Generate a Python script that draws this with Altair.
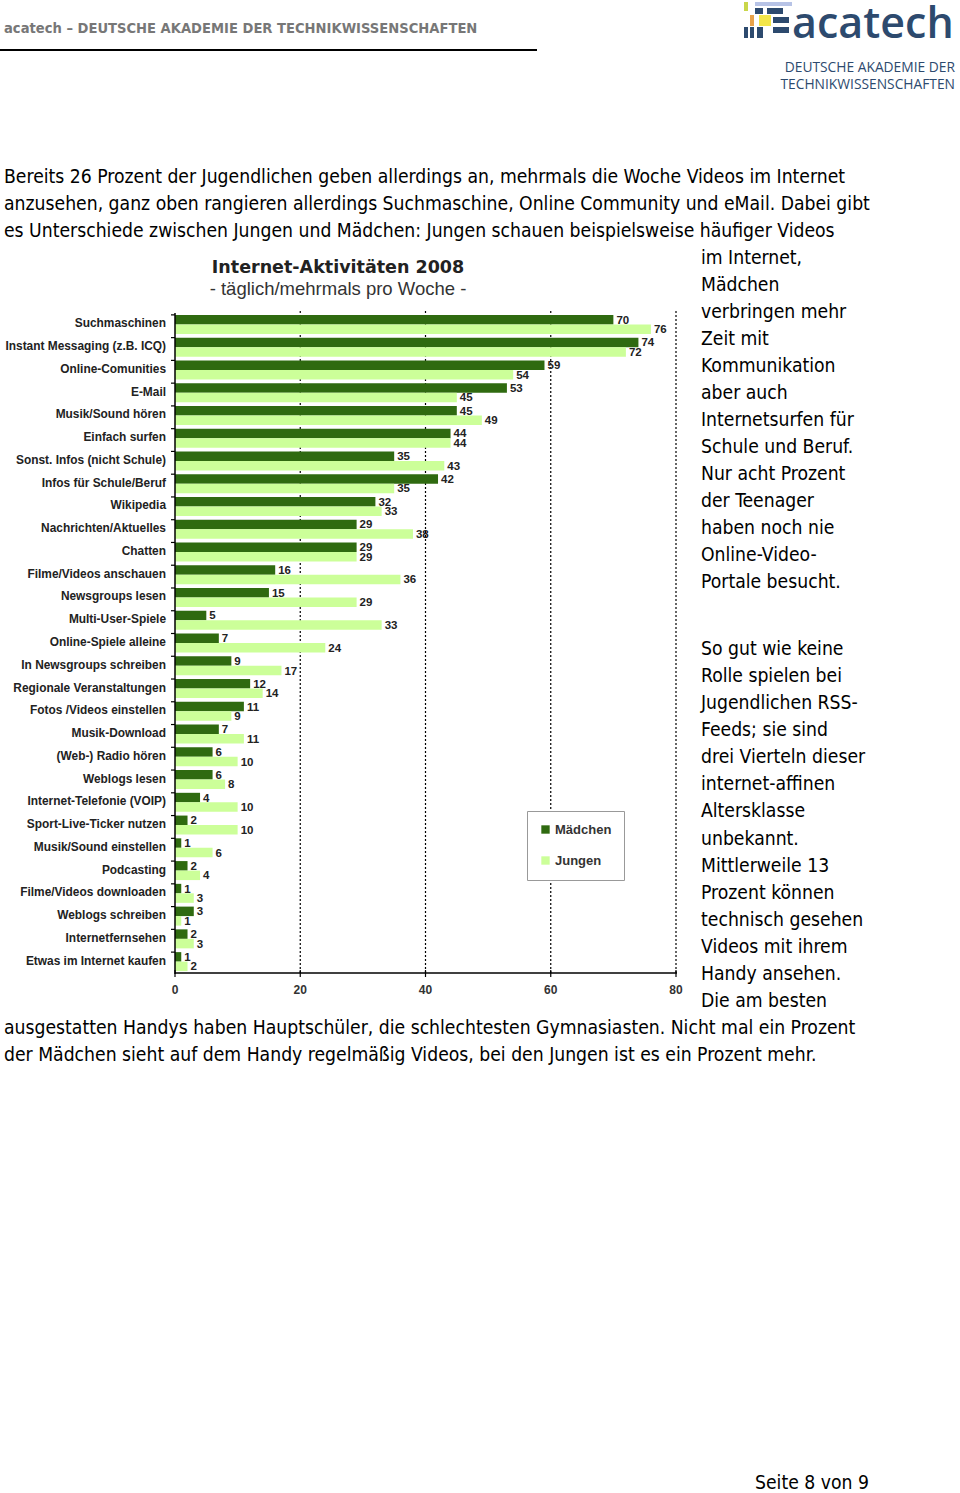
import altair as alt
import pandas as pd

# ---------------- data ----------------
categories = [
    "Suchmaschinen", "Instant Messaging (z.B. ICQ)", "Online-Comunities", "E-Mail",
    "Musik/Sound hören", "Einfach surfen", "Sonst. Infos (nicht Schule)",
    "Infos für Schule/Beruf", "Wikipedia", "Nachrichten/Aktuelles", "Chatten",
    "Filme/Videos anschauen", "Newsgroups lesen", "Multi-User-Spiele",
    "Online-Spiele alleine", "In Newsgroups schreiben", "Regionale Veranstaltungen",
    "Fotos /Videos einstellen", "Musik-Download", "(Web-) Radio hören",
    "Weblogs lesen", "Internet-Telefonie (VOIP)", "Sport-Live-Ticker nutzen",
    "Musik/Sound einstellen", "Podcasting", "Filme/Videos downloaden",
    "Weblogs schreiben", "Internetfernsehen", "Etwas im Internet kaufen",
]
maedchen = [70, 74, 59, 53, 45, 44, 35, 42, 32, 29, 29, 16, 15, 5, 7, 9, 12, 11,
            7, 6, 6, 4, 2, 1, 2, 1, 3, 2, 1]
jungen = [76, 72, 54, 45, 49, 44, 43, 35, 33, 38, 29, 36, 29, 33, 24, 17, 14, 9,
          11, 10, 8, 10, 10, 6, 4, 3, 1, 3, 2]
groups = ["Mädchen", "Jungen"]
x_ticks = [0, 20, 40, 60, 80]
grid_values = [20, 40, 60, 80]

header_text = "acatech \u2013 DEUTSCHE AKADEMIE DER TECHNIKWISSENSCHAFTEN"
chart_title = "Internet-Aktivitäten 2008"
chart_subtitle = "- täglich/mehrmals pro Woche -"
para_top = [
    "Bereits 26 Prozent der Jugendlichen geben allerdings an, mehrmals die Woche Videos im Internet",
    "anzusehen, ganz oben rangieren allerdings Suchmaschine, Online Community und eMail. Dabei gibt",
    "es Unterschiede zwischen Jungen und Mädchen: Jungen schauen beispielsweise häufiger Videos",
]
para_right1 = [
    "im Internet,", "Mädchen", "verbringen mehr", "Zeit mit", "Kommunikation",
    "aber auch", "Internetsurfen für", "Schule und Beruf.", "Nur acht Prozent",
    "der Teenager", "haben noch nie", "Online-Video-", "Portale besucht.",
]
para_right2 = [
    "So gut wie keine", "Rolle spielen bei", "Jugendlichen RSS-", "Feeds; sie sind",
    "drei Vierteln dieser", "internet-affinen", "Altersklasse", "unbekannt.",
    "Mittlerweile 13", "Prozent können", "technisch gesehen", "Videos mit ihrem",
    "Handy ansehen.", "Die am besten",
]
para_bottom = [
    "ausgestatten Handys haben Hauptschüler, die schlechtesten Gymnasiasten. Nicht mal ein Prozent",
    "der Mädchen sieht auf dem Handy regelmäßig Videos, bei den Jungen ist es ein Prozent mehr.",
]
footer_text = "Seite 8 von 9"

# ---------------- styling ----------------
W, H = 960, 1493
NARROW = "Liberation Sans Narrow, Arial Narrow, DejaVu Sans Condensed, sans-serif"
SANS = "Liberation Sans, Arial, sans-serif"
LOGO_FONT = "Open Sans, Lato, sans-serif"
DARK = "#2f6a10"
LIGHT = "#ccff99"
LOGO_BLUE = "#2d4a6e"
BODY = 19.2

rows = []
for c, m, j in zip(categories, maedchen, jungen):
    rows.append({"cat": c, "group": groups[0], "value": m})
    rows.append({"cat": c, "group": groups[1], "value": j})
df = pd.DataFrame(rows)
cat_df = pd.DataFrame({"cat": categories})

x_scale = alt.Scale(domain=[0, 80], range=[175, 676])
y_scale = alt.Scale(domain=categories, range=[313, 973], paddingInner=0.165, paddingOuter=0.0825)
yoff_scale = alt.Scale(domain=groups, paddingInner=0, paddingOuter=0)
color_scale = alt.Scale(domain=groups, range=[DARK, LIGHT])

one = pd.DataFrame({"a": [0]})

bars = alt.Chart(df).mark_bar().encode(
    x=alt.X("value:Q", scale=x_scale, axis=None),
    y=alt.Y("cat:N", scale=y_scale, sort=categories, axis=None),
    yOffset=alt.YOffset("group:N", scale=yoff_scale, sort=groups),
    color=alt.Color("group:N", scale=color_scale, sort=groups,
                    legend=alt.Legend(orient="none", legendX=527, legendY=811, title=None,
                                      direction="vertical", symbolType="square",
                                      symbolSize=70, symbolStrokeWidth=0,
                                      labelFont=SANS, labelFontWeight="bold",
                                      labelFontSize=13, labelColor="#333",
                                      rowPadding=17, padding=12, labelOffset=3,
                                      strokeColor="#999", fillColor="white")),
)

value_labels = alt.Chart(df).mark_text(
    align="left", baseline="middle", dx=3, dy=1, font=SANS, fontWeight="bold",
    fontSize=11.5, color="#222"
).encode(
    x=alt.X("value:Q", scale=x_scale, axis=None),
    y=alt.Y("cat:N", scale=y_scale, sort=categories, axis=None),
    yOffset=alt.YOffset("group:N", scale=yoff_scale, sort=groups),
    text="value:Q",
)

grid = alt.Chart(pd.DataFrame({"g": grid_values})).mark_rule(
    color="#000", strokeDash=[2, 2], strokeWidth=1.2
).encode(
    x=alt.X("g:Q", scale=x_scale, axis=None),
    y=alt.value(311), y2=alt.value(973),
)

# manual axes
y_domain = alt.Chart(one).mark_rule(color="#000", strokeWidth=1.5).encode(
    x=alt.value(175), y=alt.value(313), y2=alt.value(974))
y_ticks = alt.Chart(cat_df).mark_rule(color="#000", strokeWidth=1.2).encode(
    y=alt.Y("cat:N", scale=y_scale, sort=categories, axis=None, bandPosition=0),
    x=alt.value(171), x2=alt.value(175))
cat_labels = alt.Chart(cat_df).mark_text(
    align="right", baseline="middle", font=SANS, fontWeight="bold", fontSize=11.9,
    color="#222", dy=-1
).encode(
    y=alt.Y("cat:N", scale=y_scale, sort=categories, axis=None),
    x=alt.value(166), text="cat:N")

x_domain = alt.Chart(one).mark_rule(color="#000", strokeWidth=1.5).encode(
    y=alt.value(973), x=alt.value(175), x2=alt.value(677))
tick_df = pd.DataFrame({"t": x_ticks})
x_tick_marks = alt.Chart(tick_df).mark_rule(color="#000", strokeWidth=1.2).encode(
    x=alt.X("t:Q", scale=x_scale, axis=None), y=alt.value(970), y2=alt.value(977))
x_tick_labels = alt.Chart(tick_df).mark_text(
    baseline="middle", align="center", font=SANS, fontWeight="bold", fontSize=12,
    color="#333"
).encode(x=alt.X("t:Q", scale=x_scale, axis=None), y=alt.value(990), text="t:Q")


def text_block(lines, x, y, size, font=NARROW, weight="normal", color="#000",
               align="left", line_height=27):
    return alt.Chart(one).mark_text(
        text=lines, align=align, baseline="alphabetic", font=font, fontSize=size,
        fontWeight=weight, color=color, lineHeight=line_height
    ).encode(x=alt.value(x), y=alt.value(y))


header = text_block([header_text], 4, 33, 14.6, weight="bold", color="#777")
header_rule = alt.Chart(one).mark_rule(color="#000", strokeWidth=2).encode(
    x=alt.value(0), x2=alt.value(537), y=alt.value(50))

logo_word = text_block(["acatech"], 792, 38, 43, font=LOGO_FONT, weight=600,
                       color=LOGO_BLUE)
logo_sub = text_block(["DEUTSCHE AKADEMIE DER", "TECHNIKWISSENSCHAFTEN"], 955, 72, 13.8,
                      font=LOGO_FONT, weight=500, color=LOGO_BLUE, align="right",
                      line_height=17)

# decorative logo tiles (x, x2, y, y2, colour)
logo_tiles = pd.DataFrame([
    (755, 792, 2, 6, "#b7c3e6"),
    (744, 748, 2, 11, "#c9d64a"),
    (755, 763, 8, 14, LOGO_BLUE),
    (767, 783, 8, 14, LOGO_BLUE),
    (750, 754, 15, 26, "#e8a24a"),
    (759, 771, 15, 26, "#f3e64a"),
    (773, 789, 17, 23, LOGO_BLUE),
    (744, 748, 27, 38, LOGO_BLUE),
    (750, 754, 27, 38, LOGO_BLUE),
    (757, 763, 27, 38, LOGO_BLUE),
    (773, 789, 27, 33, LOGO_BLUE),
], columns=["x", "x2", "y", "y2", "c"])
logo = alt.Chart(logo_tiles).mark_rect().encode(
    x=alt.X("x:Q", scale=None, axis=None), x2="x2:Q",
    y=alt.Y("y:Q", scale=None, axis=None), y2="y2:Q",
    color=alt.Color("c:N", scale=None, legend=None),
)

title_a = text_block([chart_title], 338, 273, 17.5, font="DejaVu Sans, Verdana, sans-serif",
                     weight="bold", color="#222", align="center")
title_b = text_block([chart_subtitle], 338, 295, 18.5, font=SANS, color="#333",
                     align="center")

p1 = text_block(para_top, 4, 183, BODY)
p2 = text_block(para_right1, 701, 264, BODY)
p3 = text_block(para_right2, 701, 655, BODY, line_height=27.08)
p4 = text_block(para_bottom, 4, 1034, BODY)
footer = text_block([footer_text], 755, 1489, BODY)

chart = alt.layer(
    grid, bars, value_labels, y_domain, y_ticks, cat_labels, x_domain, x_tick_marks,
    x_tick_labels, header, header_rule, logo, logo_word, logo_sub,
    title_a, title_b, p1, p2, p3, p4, footer,
).properties(
    width=W, height=H, padding=0, autosize=alt.AutoSizeParams(type="none"),
    background="white",
).configure_view(stroke=None)

chart.save("out.html", embed_options={"renderer": "svg", "actions": False})
